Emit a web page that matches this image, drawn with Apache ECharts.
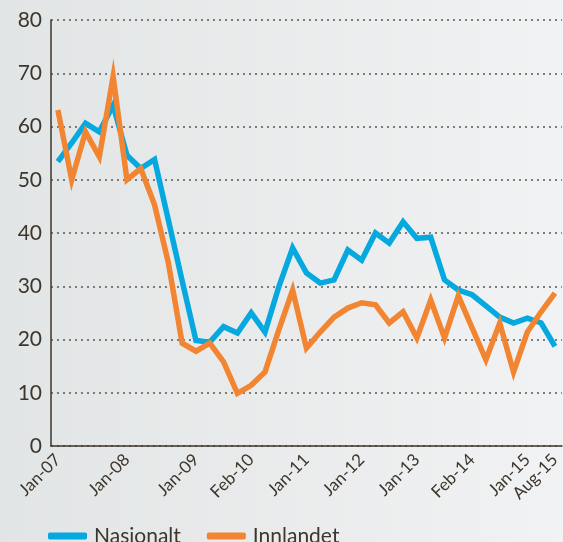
<!DOCTYPE html>
<html>
<head>
<meta charset="utf-8">
<script src="https://cdn.jsdelivr.net/npm/echarts@6/dist/echarts.min.js"></script>
<style>
  html, body { margin: 0; padding: 0; }
  #chart { width: 563px; height: 542px; }
</style>
</head>
<body>
<div id="chart"></div>
<script>
// labelled months only, the rest of the 37 points have no label
var categories = ['Jan-07', '', '', '', '', 'Jan-08', '', '', '', '', 'Jan-09', '', '', '', 'Feb-10', '', '', '', 'Jan-11', '', '', '', 'Jan-12', '', '', '', 'Jan-13', '', '', '', 'Feb-14', '', '', '', 'Jan-15', '', 'Aug-15'];
var nasjonalt = [53.4, 56.9, 60.6, 59, 64, 54.6, 52.1, 53.8, 42.4, 31, 19.8, 19.5, 22.4, 21.2, 25, 21.4, 29.9, 37.2, 32.5, 30.6, 31.2, 36.8, 34.9, 40, 38.1, 42.1, 39, 39.2, 31.2, 29.3, 28.4, 26.3, 24.2, 23.1, 24, 23.1, 18.7];
var innlandet = [63.1, 50, 59, 54.3, 69.4, 50, 52.1, 45.3, 34.4, 19.3, 17.8, 19.3, 15.8, 9.9, 11.4, 13.9, 21.8, 29.3, 18.4, 21.4, 24.2, 25.9, 26.9, 26.5, 23.1, 25.2, 20.3, 27.4, 20.3, 28.2, 22.2, 16.2, 23.1, 13.9, 21.4, 25.2, 28.7];
var yTicks = [0, 10, 20, 30, 40, 50, 60, 70, 80];

var textColor = '#3d362c';
var font = 'Lato, "Open Sans", sans-serif';

var myChart = echarts.init(document.getElementById('chart'));
myChart.setOption({
  animation: false,
  backgroundColor: new echarts.graphic.LinearGradient(0, 0, 1, 0, [
    {offset: 0, color: '#e2e5e5'},
    {offset: 1, color: '#f1f2f3'}
  ]),
  grid: {left: 51, right: -6, top: 20, bottom: 96},
  legend: {
    left: 43,
    top: 520,
    icon: 'roundRect',
    itemWidth: 39,
    itemHeight: 7,
    itemGap: 26,
    textStyle: {fontFamily: font, fontSize: 21, color: textColor, padding: [0, 0, 0, 2], lineHeight: 22},
    data: ['Nasjonalt', 'Innlandet']
  },
  xAxis: {
    type: 'category',
    data: categories,
    boundaryGap: true,
    axisLine: {lineStyle: {color: textColor, width: 1.5}},
    axisTick: {alignWithLabel: true, inside: true, length: 10, interval: 0, lineStyle: {color: textColor, width: 1.2}},
    axisLabel: {interval: 0, rotate: 45, margin: 11, fontFamily: font, fontSize: 17, color: textColor}
  },
  yAxis: {
    type: 'value',
    min: yTicks[0],
    max: yTicks[yTicks.length - 1],
    interval: 10,
    axisLine: {show: true, lineStyle: {color: textColor, width: 1.5}},
    axisTick: {show: false},
    axisLabel: {margin: 9, fontFamily: font, fontSize: 21, color: textColor},
    splitLine: {lineStyle: {type: [2, 4], color: '#5e574b', width: 1.5}}
  },
  series: [
    {
      name: 'Nasjonalt',
      type: 'line',
      data: nasjonalt,
      symbol: 'none',
      color: '#05a8df',
      lineStyle: {width: 5.5, join: 'miter'}
    },
    {
      name: 'Innlandet',
      type: 'line',
      data: innlandet,
      symbol: 'none',
      color: '#f18532',
      lineStyle: {width: 5.5, join: 'miter'}
    }
  ]
});
</script>
</body>
</html>
